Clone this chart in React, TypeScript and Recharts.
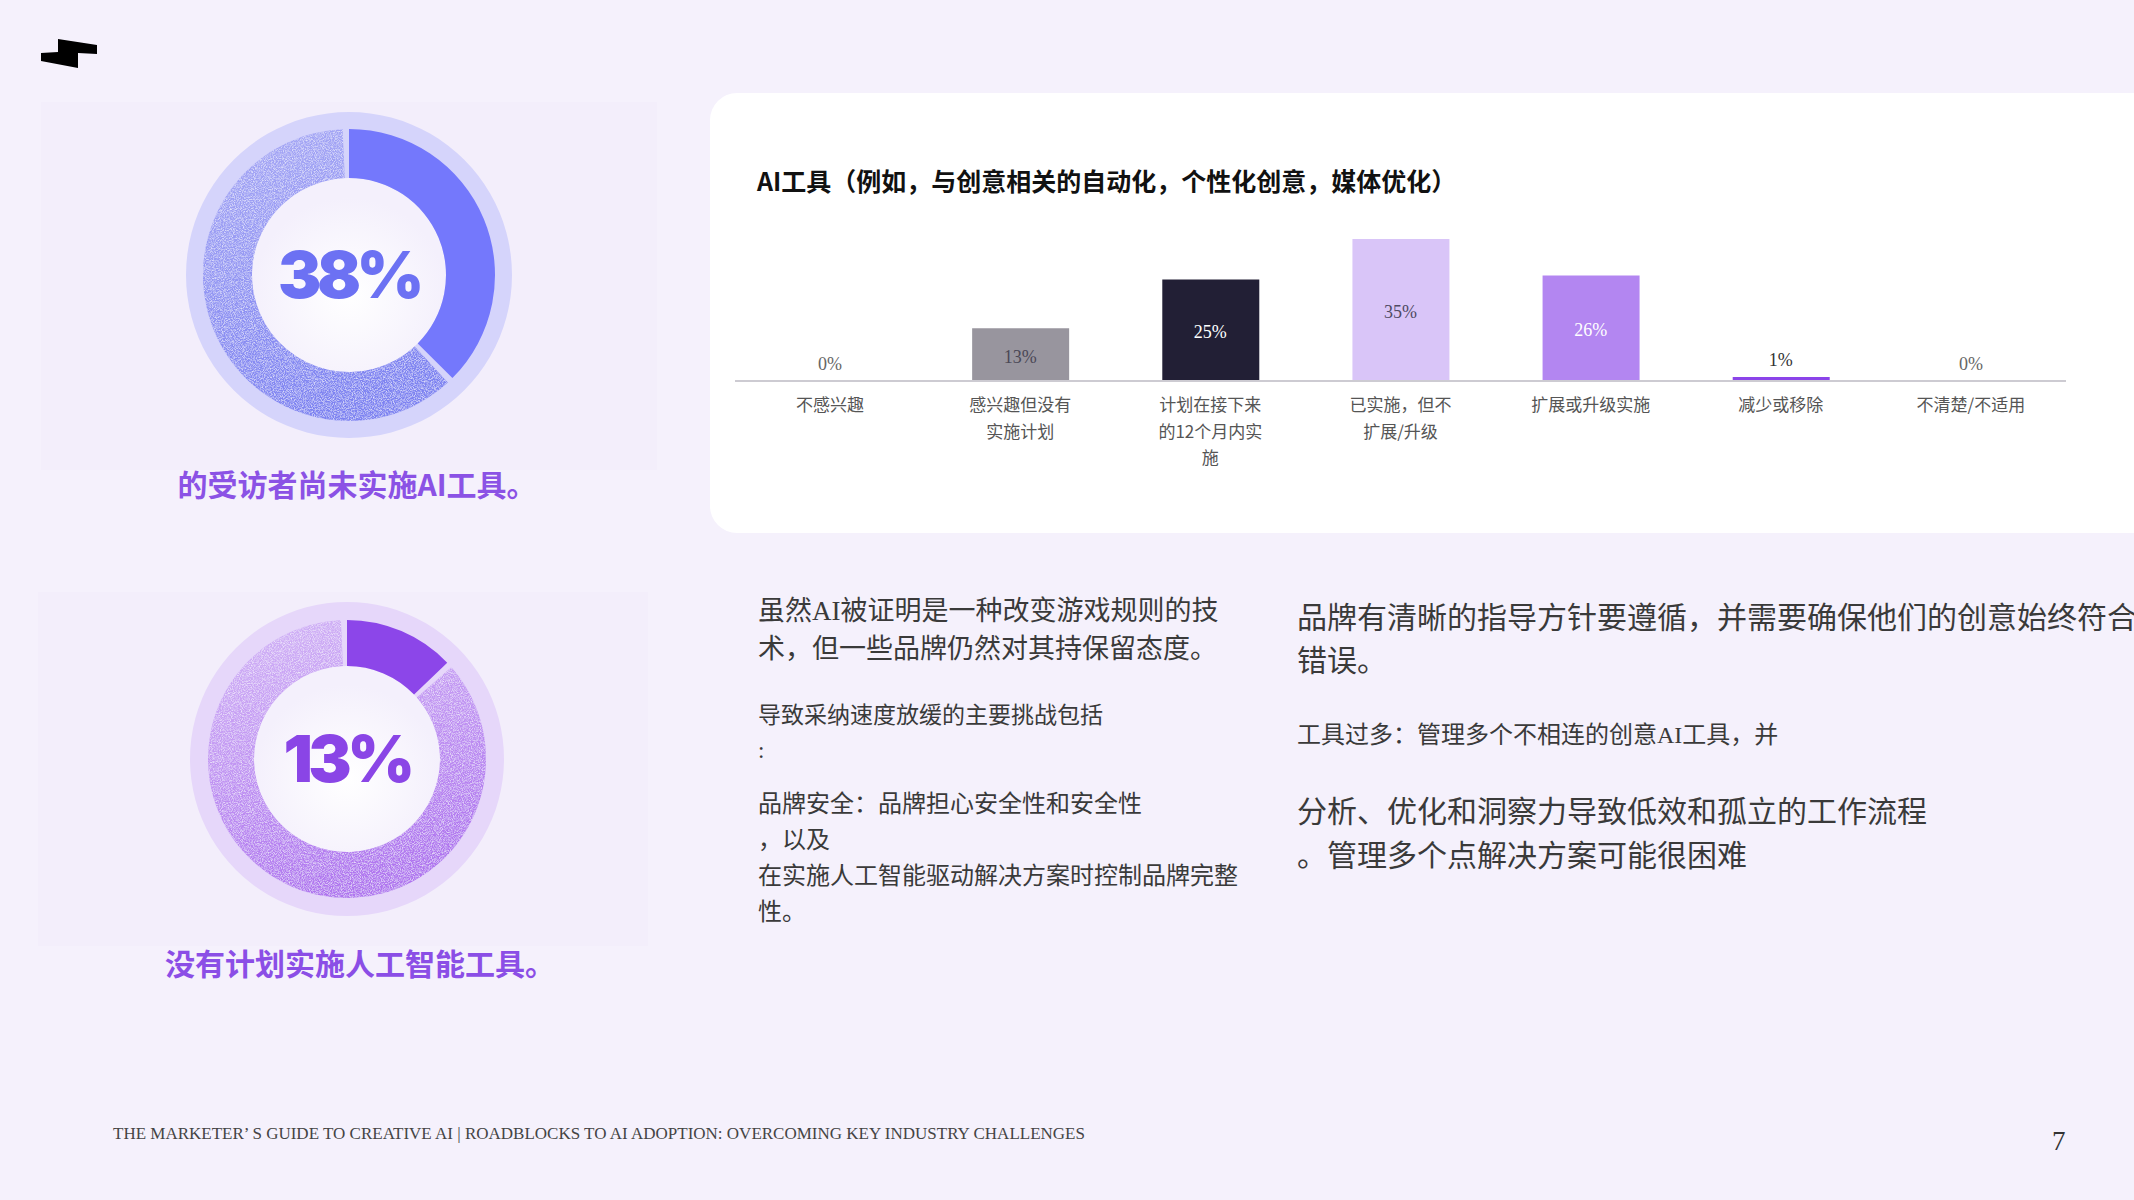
import React from "react";
import {
  ComposedChart,
  Bar,
  Line,
  XAxis,
  YAxis,
  Cell,
  PieChart,
  Pie,
  Label,
} from "recharts";

// survey answers, one per column
const CATEGORIES = [
  "不感兴趣",
  "感兴趣但没有\n实施计划",
  "计划在接下来\n的12个月内实\n施",
  "已实施，但不\n扩展/升级",
  "扩展或升级实施",
  "减少或移除",
  "不清楚/不适用",
];
const SHARES = [0, 13, 25, 35, 26, 1, 0];

// donut figures (highlighted part, rest)
const NOT_IMPLEMENTED = [38, 62];
const NO_PLAN = [13, 87];

const CHART_TITLE = "AI工具（例如，与创意相关的自动化，个性化创意，媒体优化）";
const CAPTION_TOP = "的受访者尚未实施AI工具。";
const CAPTION_BOTTOM = "没有计划实施人工智能工具。";

const BAR_COLORS = ["#cccccc", "#98959e", "#221f35", "#d9c5f8", "#b386f1", "#8b44e9", "#cccccc"];
const LABEL_COLORS = ["#666666", "#4b4856", "#ffffff", "#4f4a63", "#ffffff", "#333333", "#666666"];

const SANS = '"Noto Sans CJK SC", "Noto Sans", sans-serif';
const BODY = '"Liberation Serif", "Noto Sans CJK SC", serif';

// bar plot geometry
const PLOT_TOP = 39;
const PLOT_H = 142;
const BASELINE = PLOT_TOP + PLOT_H;

const chartData = CATEGORIES.map((name, i) => ({ name, share: SHARES[i] }));

function CategoryTick(props: any) {
  const { x, y, payload } = props;
  const lines = String(payload.value).split("\n");
  return (
    <text x={x} y={y} textAnchor="middle" fill="#555" fontSize={17} fontFamily={SANS}>
      {lines.map((line, i) => (
        <tspan key={i} x={x} dy={i === 0 ? 30 : 26.5}>
          {line}
        </tspan>
      ))}
    </text>
  );
}

// labels ride on an invisible line so that the 0% columns get one too
function ValueLabel(props: any) {
  const { x, y, value, index } = props;
  const inside = value >= 5;
  const cy = inside ? (y + BASELINE) / 2 + 2 : y - 17;
  return (
    <text
      x={x}
      y={cy}
      textAnchor="middle"
      dominantBaseline="central"
      fill={LABEL_COLORS[index]}
      fontSize={18}
      fontFamily='"Liberation Serif", serif'
    >
      {value}%
    </text>
  );
}

interface DonutProps {
  id: string;
  values: number[];
  size: number;
  outer: number;
  ring: number;
  inner: number;
  track: string;
  solid: string;
  textureFrom: string;
  textureTo: string;
  textColor: string;
}

function Donut({ id, values, size, outer, ring, inner, track, solid, textureFrom, textureTo, textColor }: DonutProps) {
  const data = values.map((v, i) => ({ name: i === 0 ? "highlight" : "rest", value: v }));
  return (
    <PieChart width={size} height={size} margin={{ top: 0, right: 0, bottom: 0, left: 0 }}>
      <defs>
        <linearGradient id={`${id}-tex`} x1="0" y1="0" x2="0.3" y2="1">
          <stop offset="0%" stopColor={textureFrom} />
          <stop offset="100%" stopColor={textureTo} />
        </linearGradient>
        <radialGradient id={`${id}-core`} cx="0.5" cy="0.6" r="0.5">
          <stop offset="0%" stopColor="#ffffff" />
          <stop offset="100%" stopColor="#f4f0fc" />
        </radialGradient>
        {/* grainy speckle like the print texture */}
        <filter id={`${id}-grain`} x="0" y="0" width="100%" height="100%">
          <feTurbulence type="fractalNoise" baseFrequency="1.1" numOctaves="2" seed="3" result="noise" />
          <feColorMatrix
            in="noise"
            type="matrix"
            values="0 0 0 0 1  0 0 0 0 1  0 0 0 0 1  0 0 0 1.4 -0.55"
            result="speck"
          />
          <feComposite in="speck" in2="SourceGraphic" operator="in" result="grain" />
          <feMerge>
            <feMergeNode in="SourceGraphic" />
            <feMergeNode in="grain" />
          </feMerge>
        </filter>
      </defs>
      <Pie
        data={[{ value: 1 }]}
        dataKey="value"
        cx="50%"
        cy="50%"
        innerRadius={0}
        outerRadius={outer}
        fill={track}
        stroke="none"
        isAnimationActive={false}
      />
      <Pie
        data={[{ value: 1 }]}
        dataKey="value"
        cx="50%"
        cy="50%"
        innerRadius={0}
        outerRadius={inner}
        fill={`url(#${id}-core)`}
        stroke="none"
        isAnimationActive={false}
      />
      <Pie
        data={data}
        dataKey="value"
        cx="50%"
        cy="50%"
        startAngle={90}
        endAngle={-270}
        innerRadius={inner}
        outerRadius={ring}
        paddingAngle={2.5}
        stroke="none"
        isAnimationActive={false}
      >
        <Cell fill={solid} />
        <Cell fill={`url(#${id}-tex)`} filter={`url(#${id}-grain)`} />
        <Label
          value={`${values[0]}%`}
          position="center"
          fill={textColor}
          fontSize={65}
          fontWeight={900}
          fontFamily="Inter, sans-serif"
          letterSpacing={-4.5}
        />
      </Pie>
    </PieChart>
  );
}

const abs = (left: number, top: number, extra: React.CSSProperties = {}): React.CSSProperties => ({
  position: "absolute",
  left,
  top,
  ...extra,
});

export default function App() {
  return (
    <div
      style={{
        position: "fixed",
        left: 0,
        top: 0,
        width: 2134,
        height: 1200,
        background: "#f5f1fc",
        overflow: "hidden",
      }}
    >
      {/* logo */}
      <svg style={abs(0, 0)} width={120} height={80}>
        <polygon points="58,39 97,45 97,54 78,53 78,68 41,61 41,53 58,52" fill="#000" />
      </svg>

      {/* donut panels */}
      <div style={abs(41, 102, { width: 616, height: 368, background: "#f3eefb" })} />
      <div style={abs(38, 592, { width: 610, height: 354, background: "#f3eefb" })} />

      <div style={abs(179, 105)}>
        <Donut
          id="d1"
          values={NOT_IMPLEMENTED}
          size={340}
          outer={163}
          ring={146}
          inner={97}
          track="#d5d4fb"
          solid="#7478fc"
          textureFrom="#a9aaf5"
          textureTo="#7d82f1"
          textColor="#6c71f3"
        />
      </div>
      <div style={abs(177, 589)}>
        <Donut
          id="d2"
          values={NO_PLAN}
          size={340}
          outer={157}
          ring={139}
          inner={93}
          track="#e6d7fa"
          solid="#8c46e9"
          textureFrom="#d3b6f6"
          textureTo="#b075ef"
          textColor="#8a45e6"
        />
      </div>

      <div
        style={abs(57, 463, {
          width: 600,
          textAlign: "center",
          fontFamily: SANS,
          fontWeight: 700,
          fontSize: 30,
          lineHeight: "40px",
          color: "#8b52e5",
        })}
      >
        {CAPTION_TOP}
      </div>
      <div
        style={abs(60, 942, {
          width: 600,
          textAlign: "center",
          fontFamily: SANS,
          fontWeight: 700,
          fontSize: 30,
          lineHeight: "40px",
          color: "#8b4ee6",
        })}
      >
        {CAPTION_BOTTOM}
      </div>

      {/* chart card */}
      <div style={abs(710, 93, { width: 1500, height: 440, background: "#ffffff", borderRadius: 27 })} />
      <div
        style={abs(757, 163, {
          fontFamily: SANS,
          fontWeight: 700,
          fontSize: 25,
          lineHeight: "34px",
          color: "#111",
          whiteSpace: "nowrap",
        })}
      >
        {CHART_TITLE}
      </div>
      <div style={abs(735, 200)}>
        <ComposedChart
          width={1331}
          height={301}
          data={chartData}
          margin={{ top: PLOT_TOP, right: 0, bottom: 0, left: 0 }}
          barSize={97}
        >
          <XAxis
            dataKey="name"
            axisLine={{ stroke: "#cdcbd2", strokeWidth: 2 }}
            tickLine={false}
            tickSize={0}
            tickMargin={0}
            height={301 - BASELINE}
            interval={0}
            tick={(p: any) => <CategoryTick {...p} />}
          />
          <YAxis hide domain={[0, 35]} />
          <Bar dataKey="share" isAnimationActive={false}>
            {chartData.map((_, i) => (
              <Cell key={`cell-${i}`} fill={BAR_COLORS[i]} />
            ))}
          </Bar>
          <Line
            dataKey="share"
            stroke="none"
            dot={false}
            activeDot={false}
            isAnimationActive={false}
            label={(p: any) => <ValueLabel key={`lbl-${p.index}`} {...p} />}
          />
        </ComposedChart>
      </div>

      {/* body copy, left column */}
      <div style={abs(758, 592, { fontFamily: BODY, fontSize: 27, lineHeight: "38px", color: "#3a3a3a", whiteSpace: "pre" })}>
        {"虽然AI被证明是一种改变游戏规则的技\n术，但一些品牌仍然对其持保留态度。"}
      </div>
      <div style={abs(758, 698, { fontFamily: BODY, fontSize: 23, lineHeight: "35px", color: "#3a3a3a", whiteSpace: "pre" })}>
        {"导致采纳速度放缓的主要挑战包括\n:"}
      </div>
      <div style={abs(758, 786, { fontFamily: BODY, fontSize: 24, lineHeight: "36px", color: "#3a3a3a", whiteSpace: "pre" })}>
        {"品牌安全：品牌担心安全性和安全性\n，以及\n在实施人工智能驱动解决方案时控制品牌完整\n性。"}
      </div>

      {/* body copy, right column */}
      <div style={abs(1297, 596, { fontFamily: BODY, fontSize: 30, lineHeight: "43px", color: "#3a3a3a", whiteSpace: "pre" })}>
        {"品牌有清晰的指导方针要遵循，并需要确保他们的创意始终符合\n错误。"}
      </div>
      <div style={abs(1297, 717, { fontFamily: BODY, fontSize: 24, lineHeight: "36px", color: "#3a3a3a", whiteSpace: "pre" })}>
        {"工具过多：管理多个不相连的创意AI工具，并"}
      </div>
      <div style={abs(1297, 790, { fontFamily: BODY, fontSize: 30, lineHeight: "44px", color: "#3a3a3a", whiteSpace: "pre" })}>
        {"分析、优化和洞察力导致低效和孤立的工作流程\n。管理多个点解决方案可能很困难"}
      </div>

      {/* footer */}
      <div style={abs(113, 1123, { fontFamily: '"Liberation Serif", serif', fontSize: 17, lineHeight: "22px", color: "#444", whiteSpace: "nowrap" })}>
        THE MARKETER’ S GUIDE TO CREATIVE AI | ROADBLOCKS TO AI ADOPTION: OVERCOMING KEY INDUSTRY CHALLENGES
      </div>
      <div style={abs(2052, 1125, { fontFamily: '"Liberation Serif", serif', fontSize: 27, lineHeight: "32px", color: "#333" })}>
        7
      </div>
    </div>
  );
}
